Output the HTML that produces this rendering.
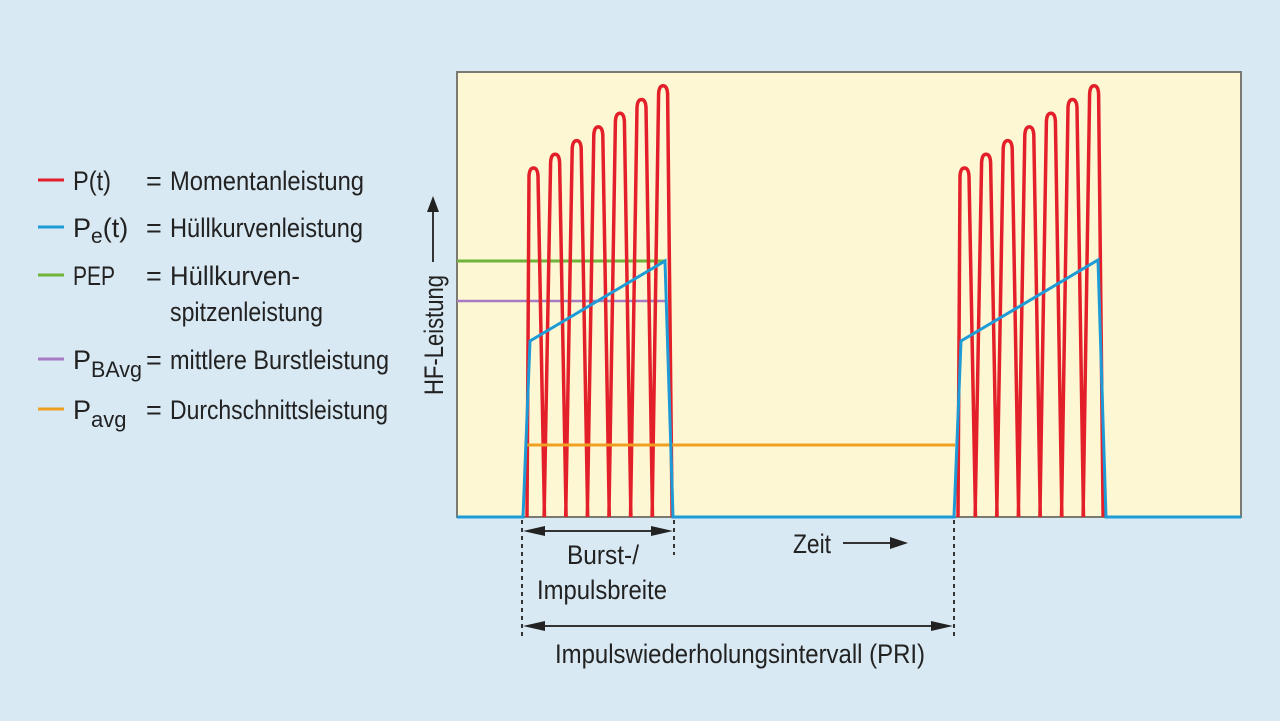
<!DOCTYPE html>
<html><head><meta charset="utf-8"><style>
html,body{margin:0;padding:0;background:#d8e9f3;}
svg{display:block;}
text{font-family:"Liberation Sans Narrow","Liberation Sans",sans-serif;fill:#222;}
</style></head><body>
<svg width="1280" height="721" viewBox="0 0 1280 721" xmlns="http://www.w3.org/2000/svg">
<rect width="1280" height="721" fill="#d8e9f3"/>
<rect x="457" y="72" width="784" height="445" fill="#fdf8d3" stroke="#7a7a72" stroke-width="2"/>
<line x1="457" y1="261" x2="665" y2="261" stroke="#6fb33a" stroke-width="3"/>
<line x1="457" y1="301" x2="667" y2="301" stroke="#a77bc4" stroke-width="2.5"/>
<g id="r" fill="none" stroke="#e3202a" stroke-width="3.5" stroke-linejoin="round"></g>
<line x1="526" y1="445" x2="955" y2="445" stroke="#f0a020" stroke-width="3"/>
<path d="M457 517 L523 517 L530 341 L665 261 L673 517 L954 517 L961 341 L1098 260 L1106 517 L1241 517" fill="none" stroke="#1e9bd7" stroke-width="3"/>
<g stroke="#333" stroke-width="2" stroke-dasharray="4,4">
<line x1="522" y1="520" x2="522" y2="640"/>
<line x1="674" y1="520" x2="674" y2="555"/>
<line x1="954" y1="520" x2="954" y2="640"/>
</g>
<g stroke="#333" stroke-width="2">
<line x1="530" y1="531" x2="666" y2="531"/>
<line x1="530" y1="626" x2="946" y2="626"/>
<line x1="843" y1="543" x2="895" y2="543"/>
<line x1="433" y1="210" x2="433" y2="262"/>
</g>
<g fill="#222">
<path d="M523 531 L545 526 L545 536Z"/><path d="M673 531 L651 526 L651 536Z"/>
<path d="M523 626 L545 621 L545 631Z"/><path d="M953 626 L931 621 L931 631Z"/>
<path d="M908 543 L890 537 L890 549Z"/>
<path d="M433 196 L427 212 L439 212Z"/>
</g>
<g font-size="27">
<text x="567" y="564" textLength="72" lengthAdjust="spacingAndGlyphs">Burst-/</text>
<text x="537" y="599" textLength="130" lengthAdjust="spacingAndGlyphs">Impulsbreite</text>
<text x="793" y="553" textLength="38" lengthAdjust="spacingAndGlyphs">Zeit</text>
<text x="555" y="663" textLength="370" lengthAdjust="spacingAndGlyphs">Impulswiederholungsintervall (PRI)</text>
<text transform="translate(443,395) rotate(-90)" textLength="120" lengthAdjust="spacingAndGlyphs">HF-Leistung</text>
</g>
<g stroke-width="3">
<line x1="38" y1="180" x2="64" y2="180" stroke="#e3202a"/>
<line x1="38" y1="227" x2="64" y2="227" stroke="#1e9bd7"/>
<line x1="38" y1="275" x2="64" y2="275" stroke="#6fb33a"/>
<line x1="38" y1="359" x2="64" y2="359" stroke="#a77bc4"/>
<line x1="38" y1="409" x2="64" y2="409" stroke="#f0a020"/>
</g>
<g font-size="27">
<text x="73" y="190" textLength="38" lengthAdjust="spacingAndGlyphs">P(t)</text>
<text x="73" y="237">P<tspan font-size="21" dy="6">e</tspan><tspan dy="-6">(t)</tspan></text>
<text x="73" y="285" textLength="42" lengthAdjust="spacingAndGlyphs">PEP</text>
<text x="73" y="369">P<tspan font-size="22" dy="8" textLength="51" lengthAdjust="spacingAndGlyphs">BAvg</tspan></text>
<text x="73" y="419">P<tspan font-size="22" dy="8">avg</tspan></text>
<text x="146" y="190">=</text><text x="146" y="237">=</text><text x="146" y="285">=</text><text x="146" y="369">=</text><text x="146" y="419">=</text>
<text x="170" y="190" textLength="194" lengthAdjust="spacingAndGlyphs">Momentanleistung</text>
<text x="170" y="237" textLength="193" lengthAdjust="spacingAndGlyphs">Hüllkurvenleistung</text>
<text x="170" y="285" textLength="130" lengthAdjust="spacingAndGlyphs">Hüllkurven-</text>
<text x="170" y="321" textLength="153" lengthAdjust="spacingAndGlyphs">spitzenleistung</text>
<text x="170" y="369" textLength="219" lengthAdjust="spacingAndGlyphs">mittlere Burstleistung</text>
<text x="170" y="419" textLength="218" lengthAdjust="spacingAndGlyphs">Durchschnittsleistung</text>
</g>
</svg>
<script>
var g=document.getElementById('r'),d='';
[523,954].forEach(function(s){
 for(var k=0;k<7;k++){
  var xp=s+10.5+21.6*k, yp=168-13.7*k;
  var l=(k==0)?s+4:xp-11, r=(k==6)?xp+9:xp+11;
  d+='M'+l+' 517 L'+(xp-4.5)+' '+(yp+8)+' Q'+(xp-4)+' '+yp+' '+xp+' '+yp+' Q'+(xp+4)+' '+yp+' '+(xp+4.5)+' '+(yp+8)+' L'+r+' 517 ';
 }
});
var p=document.createElementNS('http://www.w3.org/2000/svg','path');p.setAttribute('d',d);g.appendChild(p);
</script>
</body></html>
